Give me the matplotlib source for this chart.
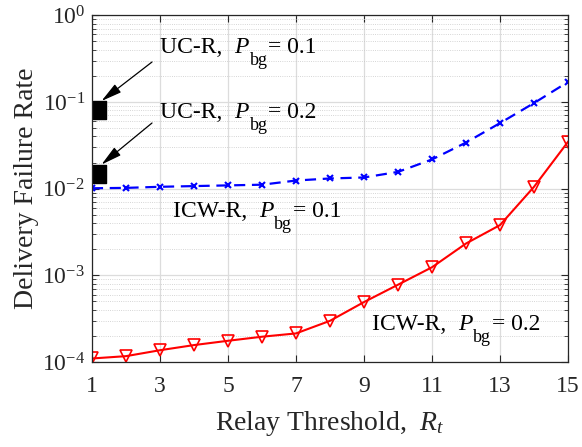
import matplotlib
matplotlib.use("Agg")
import matplotlib.pyplot as plt
import numpy as np
from matplotlib.path import Path
from matplotlib.ticker import FixedLocator, LogLocator, NullFormatter

plt.rcParams['font.family'] = ['Liberation Serif', 'DejaVu Serif']
plt.rcParams['mathtext.fontset'] = 'custom'
plt.rcParams['mathtext.rm'] = 'Liberation Serif'
plt.rcParams['mathtext.it'] = 'Liberation Serif:italic'

# data
relay_threshold = np.arange(1, 16)
icw_r_pbg01 = [0.0101, 0.0102, 0.0105, 0.0107, 0.0109, 0.0111, 0.0124, 0.0131,
               0.01345, 0.0156, 0.0217, 0.034, 0.057, 0.097, 0.170]
icw_r_pbg02 = [1.10e-4, 1.17e-4, 1.37e-4, 1.57e-4, 1.76e-4, 1.96e-4, 2.14e-4,
               2.99e-4, 4.92e-4, 7.8e-4, 1.24e-3, 2.33e-3, 3.8e-3, 0.0105, 0.0347]
uc_r_x = [1.2, 1.2]
uc_r_values = [0.080, 0.0148]

xticks = [1, 3, 5, 7, 9, 11, 13, 15]
ydecades = [1e-4, 1e-3, 1e-2, 1e-1, 1e0]
ytick_labels = [r'$\mathregular{10^{-4}}$', r'$\mathregular{10^{-3}}$', r'$\mathregular{10^{-2}}$',
                r'$\mathregular{10^{-1}}$', r'$\mathregular{10^{0}}$']

# annotation labels: (prefix, value, left px, baseline px from top)
labels = [('UC-R,', '0.1', 160, 53),
          ('UC-R,', '0.2', 160, 118),
          ('ICW-R,', '0.1', 173, 217),
          ('ICW-R,', '0.2', 372, 330)]

txt = '#262626'
W, H = 582, 447

fig = plt.figure(figsize=(5.82, 4.47), dpi=100)
ax = fig.add_axes([0.158, 0.190, 0.818, 0.776])

ax.plot(relay_threshold, icw_r_pbg01, color='#0000ff', ls='--', lw=1.6,
        marker='x', ms=5, mew=1.5, dashes=(5, 3))
ax.plot(relay_threshold, icw_r_pbg02, color='#ff0000', ls='-', lw=1.5,
        marker='v', ms=9, mfc='none', mew=1.2)

rect = Path([(-0.36, -0.5), (0.36, -0.5), (0.36, 0.5), (-0.36, 0.5), (-0.36, -0.5)],
            [Path.MOVETO, Path.LINETO, Path.LINETO, Path.LINETO, Path.CLOSEPOLY])
ax.plot(uc_r_x, uc_r_values, ls='none', marker=rect, ms=13, color='black', clip_on=False)

ax.set_yscale('log')
ax.set_xlim(1, 15)
ax.set_ylim(1e-4, 1)
ax.xaxis.set_major_locator(FixedLocator(xticks))
ax.set_xticklabels([str(v) for v in xticks])
ax.yaxis.set_major_locator(FixedLocator(ydecades))
ax.set_yticklabels(ytick_labels)
ax.yaxis.set_minor_locator(LogLocator(base=10, subs=np.arange(2, 10), numticks=20))
ax.yaxis.set_minor_formatter(NullFormatter())

ax.grid(True, which='major', color='#dcdcdc', lw=0.9, ls='-')
ax.grid(True, which='minor', axis='y', color='#c8c8c8', lw=0.6, ls=':')
ax.set_axisbelow(True)

ax.tick_params(which='both', direction='in', top=True, right=True, colors=txt, labelsize=17)
ax.tick_params(axis='x', which='major', pad=10)
ax.tick_params(axis='y', which='major', pad=5)
ax.tick_params(which='major', length=5)
ax.tick_params(which='minor', length=3)
for s in ax.spines.values():
    s.set_color(txt)
    s.set_linewidth(0.9)

ax.set_xlabel(r'Relay Threshold,  $R_t$', fontsize=20, color=txt, labelpad=9)
ax.set_ylabel('Delivery Failure Rate', fontsize=20, color=txt, labelpad=2)

# labels with a MATLAB-like low subscript, drawn piece by piece
fig.canvas.draw()
renderer = fig.canvas.get_renderer()
for prefix, val, x0, base in labels:
    y0 = H - base
    x = x0
    t = fig.text(x / W, y0 / H, prefix + '  ', fontsize=17, va='baseline')
    x = t.get_window_extent(renderer).x1
    t = fig.text(x / W, y0 / H, 'P', fontsize=17, style='italic', va='baseline')
    x = t.get_window_extent(renderer).x1 + 1
    t = fig.text(x / W, (y0 - 12) / H, 'bg', fontsize=13, va='baseline')
    x = t.get_window_extent(renderer).x1 + 1
    fig.text(x / W, y0 / H, '= ' + val, fontsize=17, va='baseline')

arrow = dict(arrowstyle='-|>,head_length=0.9,head_width=0.22', color='black', lw=0.9,
             mutation_scale=14, shrinkA=0, shrinkB=0)
ax.annotate('', xy=(uc_r_x[0] + 0.08, uc_r_values[0] * 1.28), xytext=(152, H - 62),
            textcoords='figure pixels', arrowprops=arrow)
ax.annotate('', xy=(uc_r_x[1] + 0.08, uc_r_values[1] * 1.28), xytext=(152, H - 123),
            textcoords='figure pixels', arrowprops=arrow)

fig.savefig('out.png', dpi=100)
